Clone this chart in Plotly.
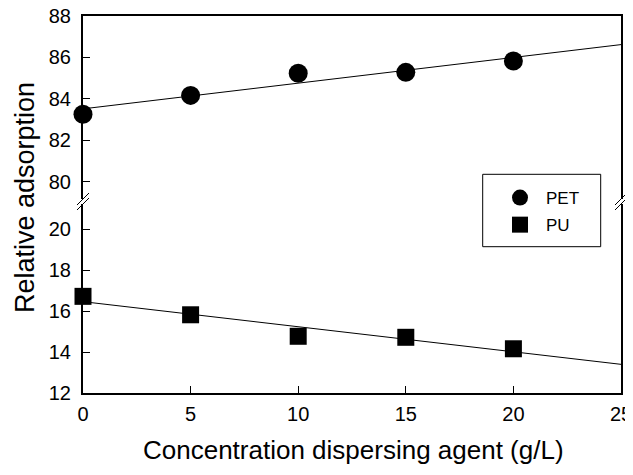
import plotly.graph_objects as go

# Data
x_vals = [0, 5, 10, 15, 20]
pet = [83.26, 84.17, 85.24, 85.28, 85.83]
pu = [16.72, 15.82, 14.77, 14.72, 14.16]
fit_x = [0, 25]
pet_fit = [83.52, 86.62]
pu_fit = [16.46, 13.40]
x_ticks = [0, 5, 10, 15, 20, 25]
y_low_ticks = [12, 14, 16, 18, 20]
y_high_ticks = [80, 82, 84, 86, 88]

OFF = 8  # page body margin
W, H = 633 - OFF, 475 - 2 * OFF
L_REF, R_REF, T_REF, B_REF = 83, 621, 16, 393
ML = L_REF - OFF
MT = T_REF - OFF
MR = W - (R_REF - OFF)
MB = H - (B_REF - OFF)
PW = R_REF - L_REF
PH = B_REF - T_REF
FONT = "Arial, Liberation Sans, sans-serif"

def py(pix):
    return (B_REF - pix) / PH

def px(pix):
    return (pix - L_REF) / PW

low_top = py(204)
high_bot = py(199)

fig = go.Figure()
fig.add_trace(go.Scatter(x=fit_x, y=pet_fit, mode="lines", line=dict(color="black", width=1),
                         xaxis="x2", yaxis="y2", showlegend=False, hoverinfo="skip"))
fig.add_trace(go.Scatter(x=fit_x, y=pu_fit, mode="lines", line=dict(color="black", width=1),
                         showlegend=False, hoverinfo="skip"))
fig.add_trace(go.Scatter(x=x_vals, y=pet, mode="markers", name="PET", legendgroup="a",
                         marker=dict(symbol="circle", size=19, color="black"),
                         xaxis="x2", yaxis="y2", cliponaxis=False))
fig.add_trace(go.Scatter(x=x_vals, y=pu, mode="markers", name="PU", legendgroup="b",
                         marker=dict(symbol="square", size=17, color="black"),
                         cliponaxis=False))

tickfont = dict(family=FONT, size=20, color="black")
common_y = dict(showline=True, linecolor="black", linewidth=2, mirror=True, ticks="inside",
                ticklen=7, tickwidth=1, tickcolor="black", showgrid=False, zeroline=False,
                tickfont=tickfont, ticklabelstandoff=6, automargin=False,
                ticklabeloverflow="allow")

fig.update_layout(
    width=W, height=H,
    margin=dict(l=ML, r=MR, t=MT, b=MB),
    paper_bgcolor="white", plot_bgcolor="white",
    font=dict(family=FONT, color="black"),
    xaxis=dict(domain=[0, 1], range=[0, 25], anchor="y", tickvals=x_ticks,
               showline=True, linecolor="black", linewidth=2, ticks="inside", ticklen=7,
               tickwidth=1, tickcolor="black", showgrid=False, zeroline=False,
               tickfont=tickfont, automargin=False, ticklabelstandoff=2,
               ticklabeloverflow="allow"),
    xaxis2=dict(domain=[0, 1], range=[0, 25], anchor="y2", matches="x", side="top",
                showline=True, linecolor="black", linewidth=2, ticks="", showticklabels=False,
                showgrid=False, zeroline=False, automargin=False),
    yaxis=dict(domain=[0, low_top], range=[12, 21.23], anchor="x", tickvals=y_low_ticks, **common_y),
    yaxis2=dict(domain=[high_bot, 1], range=[79.17, 88], anchor="x2", tickvals=y_high_ticks, **common_y),
    legend=dict(x=px(494), y=py(180), xanchor="left", yanchor="top",
                borderwidth=0, bgcolor="rgba(0,0,0,0)",
                font=dict(size=17, family=FONT),
                itemwidth=42, tracegroupgap=2),
    annotations=[
        dict(text="Relative adsorption", xref="paper", yref="paper",
             x=px(25), y=py(198), xanchor="center", yanchor="middle", textangle=-90,
             showarrow=False, font=dict(size=27, family=FONT)),
        dict(text="Concentration dispersing agent (g/L)", xref="paper", yref="paper",
             x=px(353), y=py(450), xanchor="center", yanchor="middle",
             showarrow=False, font=dict(size=26, family=FONT)),
    ],
)

shapes = [dict(type="rect", xref="paper", yref="paper",
               x0=px(482.7), x1=px(600.7), y0=py(246.7), y1=py(174.3),
               line=dict(color="black", width=1), fillcolor="rgba(0,0,0,0)", layer="above")]
dx = 6 / PW
dy = 6 / PH
for xe in (0, 1):
    for yc in (high_bot, low_top):
        shapes.append(dict(type="line", xref="paper", yref="paper",
                           x0=xe - dx, x1=xe + dx, y0=yc - dy, y1=yc + dy,
                           line=dict(color="black", width=1)))
fig.update_layout(shapes=shapes)

fig.write_html("out.html")
